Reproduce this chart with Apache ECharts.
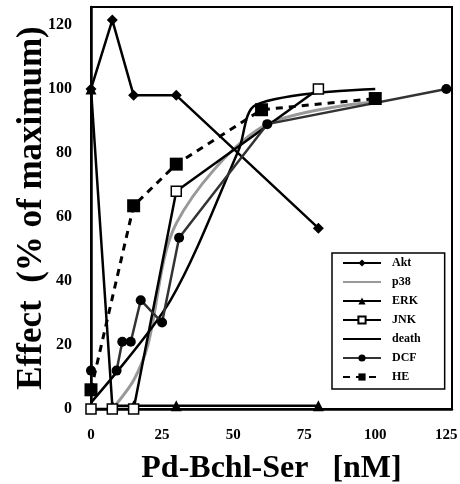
<!DOCTYPE html>
<html>
<head>
<meta charset="utf-8">
<script src="https://cdn.jsdelivr.net/npm/echarts@6/dist/echarts.min.js"></script>
<style>
    html, body { margin: 0; padding: 0; background: #fff; }
    #main { width: 460px; height: 484px; }
</style>
</head>
<body>
<div id="main"></div>
<script>
// values (x in nM, y in % of maximum)
var aktX = [0, 7.5, 15, 30, 80];
var aktY = [100, 121.5, 98, 98, 56.5];

var erkX = [0, 7.5, 15, 30, 80];
var erkY = [100, 1, 1, 1, 1];

var jnkX = [0, 7.5, 15, 30, 80];
var jnkY = [0, 0, 0, 68, 100];

var p38X = [7.5, 15, 20, 30, 60, 100];
var p38Y = [0, 9, 20, 58, 88, 96];

var deathX = [0, 28, 52, 58, 100];
var deathY = [2, 34, 81, 95, 100];

var dcfX = [0, 9, 11, 14, 17.5, 25, 31, 62, 125];
var dcfY = [12, 12, 21, 21, 34, 27, 53.5, 89, 100];

var heX = [0, 15, 30, 60, 100];
var heY = [6, 63.5, 76.5, 93.5, 97];

var legendNames = ['Akt', 'p38', 'ERK', 'JNK', 'death', 'DCF', 'HE'];
var noMarker = ['p38', 'death'];

function pairs(xs, ys) {
    return xs.map(function (x, i) {
        return [x, ys[i]];
    });
}

function chart() {
    var myChart = echarts.init(document.getElementById('main'));
    var serif = 'Liberation Serif';

    // the first DCF point stands alone, no segment to the next one
    var dcfData = pairs(dcfX, dcfY);
    dcfData.splice(1, 0, '-');

    var option = {
        animation: false,
        grid: {
            left: 91, right: 8, top: 7, bottom: 75,
            outerBoundsMode: 'none',
            show: true, borderColor: '#000', borderWidth: 2
        },
        legend: {
            data: legendNames.map(function (n) {
                // plain lines in the key have no marker
                return noMarker.indexOf(n) >= 0 ? { name: n, itemStyle: { opacity: 0 } } : { name: n };
            }),
            orient: 'vertical',
            left: 332, top: 253,
            backgroundColor: '#fff',
            borderColor: '#000', borderWidth: 1.5,
            padding: [4, 24, 6, 10],
            itemWidth: 38, itemHeight: 9, itemGap: 7,
            textStyle: {
                fontFamily: serif, fontWeight: 'bold', fontSize: 12, color: '#000',
                padding: [0, 0, 0, 6]
            }
        },
        xAxis: {
            type: 'value', min: 0, max: 127, interval: 25,
            name: 'Pd-Bchl-Ser   [nM]', nameLocation: 'middle', nameGap: 44,
            nameTextStyle: { fontFamily: serif, fontWeight: 'bold', fontSize: 32, color: '#000' },
            axisLine: { lineStyle: { color: '#000', width: 2.5 } },
            axisTick: { show: false },
            splitLine: { show: false },
            axisLabel: {
                margin: 19, fontFamily: serif, fontWeight: 'bold', fontSize: 15, color: '#000',
                formatter: function (v) { return v % 25 === 0 ? v : ''; }
            }
        },
        yAxis: {
            type: 'value', min: 0, max: 125.6, interval: 20,
            name: 'Effect  (% of maximum)', nameLocation: 'middle', nameGap: 42,
            nameMoveOverlap: false,
            nameTextStyle: { fontFamily: serif, fontWeight: 'bold', fontSize: 35, color: '#000' },
            axisLine: { lineStyle: { color: '#000', width: 2.5 } },
            axisTick: { show: false },
            splitLine: { show: false },
            axisLabel: {
                margin: 19, fontFamily: serif, fontWeight: 'bold', fontSize: 16, color: '#000',
                formatter: function (v) { return v % 20 === 0 ? v : ''; }
            }
        },
        series: [{
            name: 'p38', type: 'line', data: pairs(p38X, p38Y),
            symbol: 'none', smooth: 0.3, z: 1,
            lineStyle: { color: '#999', width: 3 }, itemStyle: { color: '#999' }
        }, {
            name: 'Akt', type: 'line', data: pairs(aktX, aktY),
            symbol: 'diamond', symbolSize: 11,
            lineStyle: { color: '#000', width: 2.5 }, itemStyle: { color: '#000' }
        }, {
            name: 'ERK', type: 'line', data: pairs(erkX, erkY),
            symbol: 'triangle', symbolSize: 11,
            lineStyle: { color: '#000', width: 2.5 }, itemStyle: { color: '#000' }
        }, {
            name: 'JNK', type: 'line', data: pairs(jnkX, jnkY),
            symbol: 'rect', symbolSize: 10,
            lineStyle: { color: '#000', width: 2.5 },
            itemStyle: { color: '#fff', borderColor: '#000', borderWidth: 1.5 }
        }, {
            name: 'death', type: 'line', data: pairs(deathX, deathY),
            symbol: 'none', smooth: 0.3,
            lineStyle: { color: '#000', width: 2.5 }, itemStyle: { color: '#000' }
        }, {
            name: 'DCF', type: 'line', data: dcfData, connectNulls: false,
            symbol: 'circle', symbolSize: 10,
            lineStyle: { color: '#333', width: 2.5 }, itemStyle: { color: '#000' }
        }, {
            name: 'HE', type: 'line', data: pairs(heX, heY),
            symbol: 'rect', symbolSize: 13,
            lineStyle: { color: '#000', width: 3, type: [7, 6] }, itemStyle: { color: '#000' }
        }]
    };
    myChart.setOption(option);
}

chart();
</script>
</body>
</html>
